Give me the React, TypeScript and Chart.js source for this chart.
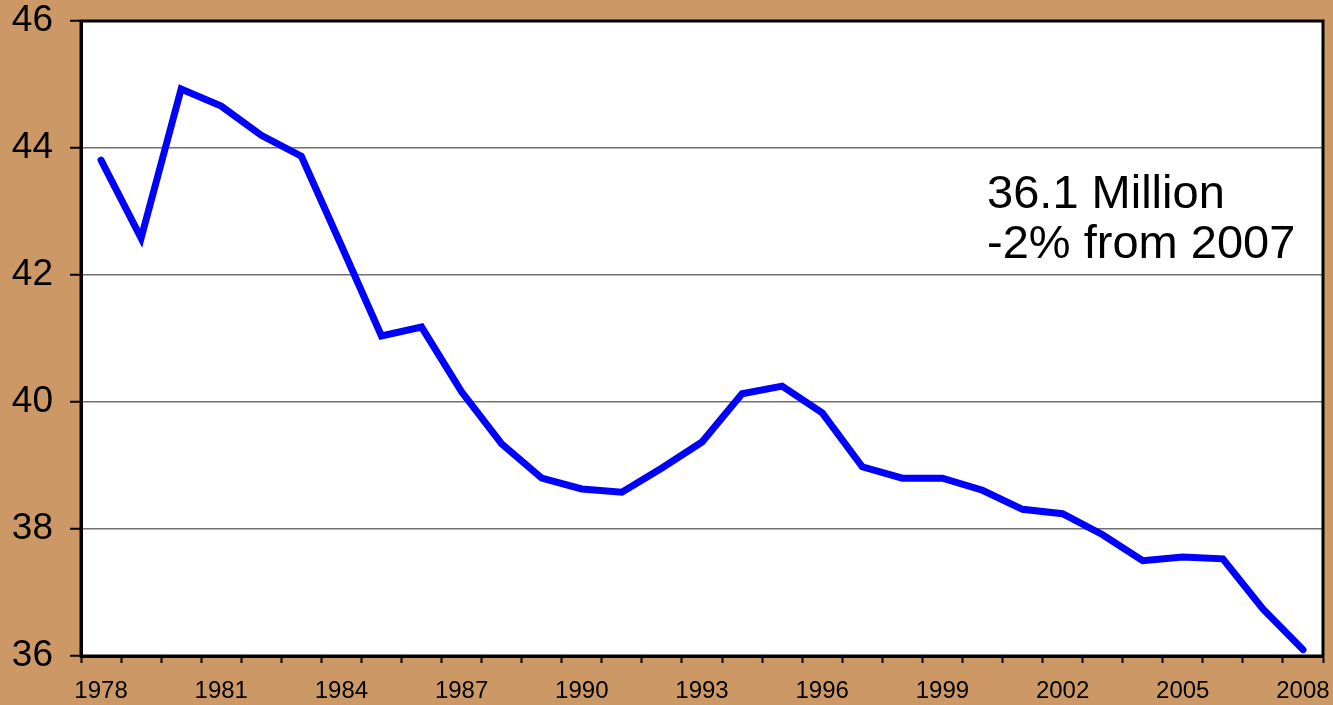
import React, { useEffect, useRef } from "react";
import { Chart, registerables } from "chart.js";

Chart.register(...registerables);

const years: string[] = [
  "1978","1979","1980","1981","1982","1983","1984","1985","1986","1987",
  "1988","1989","1990","1991","1992","1993","1994","1995","1996","1997",
  "1998","1999","2000","2001","2002","2003","2004","2005","2006","2007","2008",
];

const values: number[] = [
  43.81, 42.58, 44.93, 44.66, 44.2, 43.87, 42.46, 41.04, 41.18, 40.16,
  39.34, 38.8, 38.63, 38.58, 38.96, 39.37, 40.13, 40.25, 39.83, 38.98,
  38.8, 38.8, 38.61, 38.31, 38.24, 37.91, 37.5, 37.56, 37.53, 36.74, 36.1,
];

const annotationLines: string[] = ["36.1 Million", "-2% from 2007"];

const yMin = 36;
const yMax = 46;
const yStep = 2;

const FONT = "Arial, 'Liberation Sans', Helvetica, sans-serif";

const plotBgPlugin = {
  id: "plotBg",
  beforeDraw(chart: any) {
    const { ctx, chartArea } = chart;
    ctx.save();
    ctx.fillStyle = "#FFFFFF";
    ctx.fillRect(
      chartArea.left,
      chartArea.top,
      chartArea.right - chartArea.left,
      chartArea.bottom - chartArea.top
    );
    ctx.restore();
  },
};

const frameAndTextPlugin = {
  id: "frameAndText",
  afterDatasetsDraw(chart: any) {
    const { ctx, chartArea } = chart;
    ctx.save();
    ctx.strokeStyle = "#000000";
    ctx.lineWidth = 3;
    ctx.strokeRect(
      chartArea.left,
      chartArea.top,
      chartArea.right - chartArea.left,
      chartArea.bottom - chartArea.top
    );
    ctx.fillStyle = "#000000";
    ctx.font = `47px ${FONT}`;
    ctx.textAlign = "left";
    ctx.textBaseline = "alphabetic";
    const x = chartArea.left + (chartArea.right - chartArea.left) * 0.7295;
    annotationLines.forEach((t, i) => {
      ctx.fillText(t, x, 208 + i * 50);
    });
    ctx.restore();
  },
};

export default function App() {
  const canvasRef = useRef<HTMLCanvasElement | null>(null);

  useEffect(() => {
    const prevMargin = document.body.style.margin;
    document.body.style.margin = "0";
    const canvas = canvasRef.current!;
    const chart = new Chart(canvas, {
      type: "line",
      data: {
        labels: years,
        datasets: [
          {
            data: values,
            borderColor: "#0000FF",
            borderWidth: 7,
            pointRadius: 0,
            borderCapStyle: "round",
            borderJoinStyle: "miter",
            tension: 0,
            fill: false,
          },
        ],
      },
      options: {
        animation: false,
        responsive: false,
        maintainAspectRatio: false,
        devicePixelRatio: 1,
        layout: { padding: { top: 21, right: 10, left: 0, bottom: 0 } },
        plugins: {
          legend: { display: false },
          tooltip: { enabled: false },
          title: { display: false },
        },
        scales: {
          x: {
            type: "category",
            offset: true,
            afterFit: (scale: any) => {
              scale.height = 49;
              scale.paddingLeft = 0;
              scale.paddingRight = 0;
            },
            grid: {
              display: true,
              offset: true,
              drawOnChartArea: false,
              drawTicks: true,
              tickLength: 7,
              tickColor: "#000000",
              tickWidth: 2,
            },
            border: { display: true, color: "#000000", width: 3 },
            ticks: {
              autoSkip: false,
              maxRotation: 0,
              minRotation: 0,
              color: "#000000",
              padding: 14,
              font: { family: FONT, size: 24 },
              callback: (_v: any, i: number) => (i % 3 === 0 ? years[i] : ""),
            },
          },
          y: {
            min: yMin,
            max: yMax,
            afterFit: (scale: any) => {
              scale.width = 81;
              scale.paddingTop = 0;
              scale.paddingBottom = 0;
            },
            grid: {
              display: true,
              color: "#707070",
              lineWidth: 1.5,
              drawTicks: true,
              tickLength: 11,
              tickColor: "#000000",
              tickWidth: 2,
            },
            border: { display: true, color: "#000000", width: 3 },
            ticks: {
              stepSize: yStep,
              color: "#000000",
              padding: 17,
              font: { family: FONT, size: 37 },
            },
          },
        },
      },
      plugins: [plotBgPlugin, frameAndTextPlugin],
    });
    return () => {
      chart.destroy();
      document.body.style.margin = prevMargin;
    };
  }, []);

  return (
    <div
      style={{
        position: "fixed",
        left: 0,
        top: 0,
        width: 1333,
        height: 705,
        background: "#CC9966",
      }}
    >
      <canvas ref={canvasRef} width={1333} height={705} style={{ display: "block" }} />
    </div>
  );
}
